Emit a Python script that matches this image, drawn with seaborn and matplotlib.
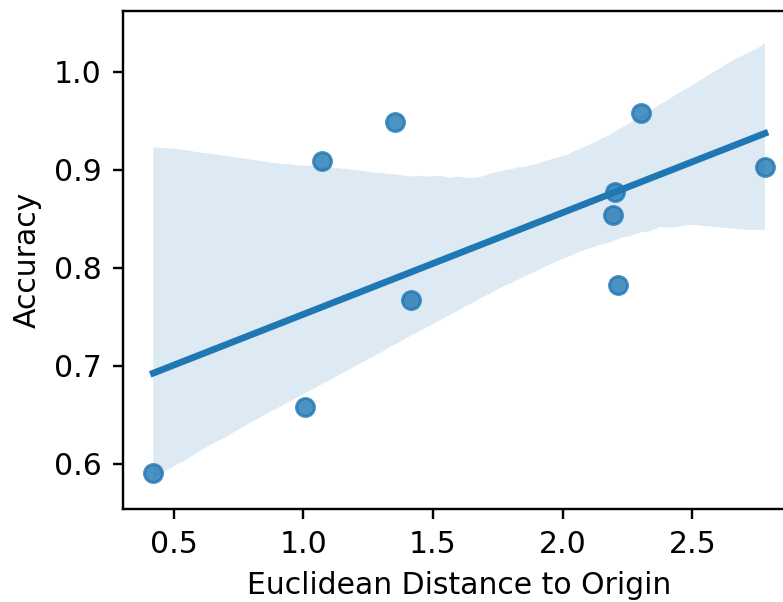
import numpy as np
import pandas as pd
import matplotlib
matplotlib.use("Agg")
import matplotlib.pyplot as plt
import seaborn as sns

# Distance of each model's embedding from the origin vs. its accuracy
distance = [0.422, 1.007, 1.073, 1.354, 1.416, 2.194, 2.202, 2.214, 2.302, 2.780]
accuracy = [0.591, 0.658, 0.909, 0.949, 0.767, 0.854, 0.877, 0.782, 0.958, 0.903]

df = pd.DataFrame({"Euclidean Distance to Origin": distance, "Accuracy": accuracy})

plt.rcParams["font.family"] = ["DejaVu Sans"]

fig = plt.figure(figsize=(783 / 215, 602 / 215), dpi=215)
ax = fig.add_axes([0.1567, 0.1545, 0.8593, 0.8272])

sns.regplot(
    data=df, x="Euclidean Distance to Origin", y="Accuracy", ax=ax,
    color="C0", seed=42,
)

ax.set_xticks([0.5, 1.0, 1.5, 2.0, 2.5])
ax.set_yticks([0.6, 0.7, 0.8, 0.9, 1.0])
ax.set_ylim(0.554, 1.062)

fig.savefig("out.png", dpi=215)
